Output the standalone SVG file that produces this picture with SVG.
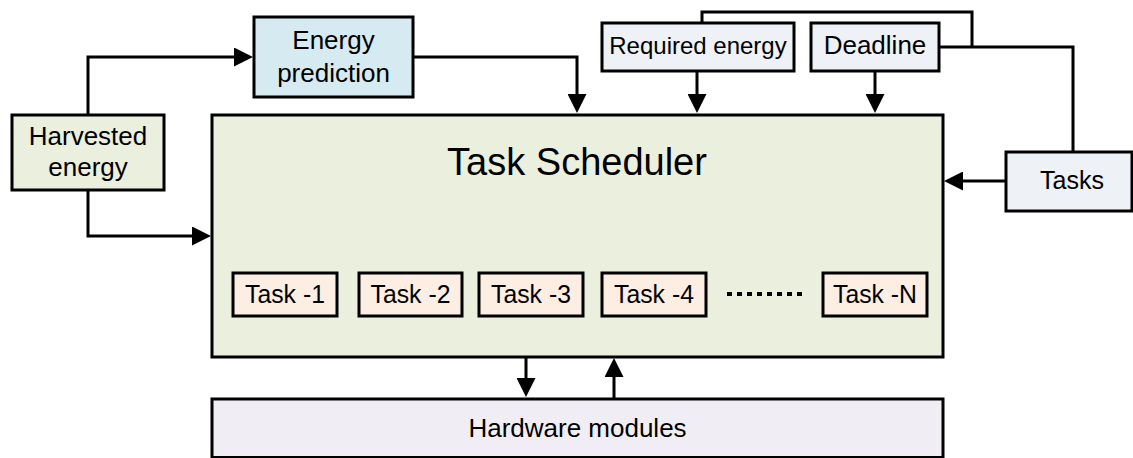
<svg xmlns="http://www.w3.org/2000/svg" width="1133" height="458" viewBox="0 0 1133 458">
<style>
  .box { stroke: #000; stroke-width: 3; }
  .green { fill: #EBEFDE; }
  .blue { fill: #D5EBF1; }
  .grey { fill: #EEF1F6; }
  .peach { fill: #FDEEE4; }
  .lav { fill: #F0EEF4; }
  text { font-family: "Liberation Sans", Arial, sans-serif; fill: #000; text-anchor: middle; }
  .tl { font-size: 26px; }
  .conn { fill: none; stroke: #000; stroke-width: 3; }
  .arrow { marker-end: url(#ah); }
</style>
<defs>
  <marker id="ah" viewBox="0 0 19 19" refX="13" refY="9.5" markerWidth="19" markerHeight="19" markerUnits="userSpaceOnUse" orient="auto">
    <path d="M0,0 L19,9.5 L0,19 z" fill="#000"/>
  </marker>
</defs>
<rect width="1133" height="458" fill="#fff"/>

<g id="scheduler">
  <rect class="box green" x="212" y="115" width="731" height="242"/>
  <text x="577" y="175" font-size="38">Task Scheduler</text>
</g>
<g id="harvested">
  <rect class="box green" x="12" y="115" width="152" height="75"/>
  <text x="88" y="145" font-size="26">Harvested</text>
  <text x="88" y="176" font-size="26">energy</text>
</g>
<g id="prediction">
  <rect class="box blue" x="254" y="17" width="159" height="80"/>
  <text x="333.5" y="49" font-size="26">Energy</text>
  <text x="333.5" y="82" font-size="26">prediction</text>
</g>
<g id="required">
  <rect class="box grey" x="602" y="23" width="192" height="48"/>
  <text x="698" y="54" font-size="24">Required energy</text>
</g>
<g id="deadline">
  <rect class="box grey" x="811" y="23" width="128" height="48"/>
  <text x="875" y="54" font-size="26">Deadline</text>
</g>
<g id="tasks">
  <rect class="box grey" x="1006" y="152" width="126" height="59"/>
  <text x="1072" y="189" font-size="25">Tasks</text>
</g>
<g id="task1">
  <rect class="box peach" x="233" y="273" width="104" height="43"/>
  <text class="tl" x="285" y="303" textLength="80" lengthAdjust="spacingAndGlyphs">Task -1</text>
</g>
<g id="task2">
  <rect class="box peach" x="359" y="273" width="103" height="43"/>
  <text class="tl" x="410.5" y="303" textLength="80" lengthAdjust="spacingAndGlyphs">Task -2</text>
</g>
<g id="task3">
  <rect class="box peach" x="479" y="273" width="104" height="43"/>
  <text class="tl" x="531" y="303" textLength="80" lengthAdjust="spacingAndGlyphs">Task -3</text>
</g>
<g id="task4">
  <rect class="box peach" x="602" y="273" width="104" height="43"/>
  <text class="tl" x="654" y="303" textLength="80" lengthAdjust="spacingAndGlyphs">Task -4</text>
</g>
<g id="dots">
  <path d="M727,294 H802" fill="none" stroke="#000" stroke-width="4" stroke-dasharray="5 5"/>
</g>
<g id="taskN">
  <rect class="box peach" x="823" y="273" width="104" height="43"/>
  <text class="tl" x="875" y="303" textLength="84" lengthAdjust="spacingAndGlyphs">Task -N</text>
</g>
<g id="hardware">
  <rect class="box lav" x="212" y="399" width="731" height="58.5"/>
  <text x="577.5" y="437" font-size="26">Hardware modules</text>
</g>

<g id="connectors">
  <path class="conn arrow" d="M88,115 V57 H247"/>
  <path class="conn arrow" d="M88,190 V236 H205"/>
  <path class="conn arrow" d="M413,57 H577 V107"/>
  <path class="conn arrow" d="M697,71 V107"/>
  <path class="conn arrow" d="M875,71 V107"/>
  <path class="conn arrow" d="M1006,181 H950"/>
  <path class="conn" d="M1073,152 V47 H939"/>
  <path class="conn" d="M972,47 V12 H702 V23"/>
  <path class="conn arrow" d="M526,357 V391"/>
  <path class="conn arrow" d="M614,399 V364"/>
</g>
</svg>
